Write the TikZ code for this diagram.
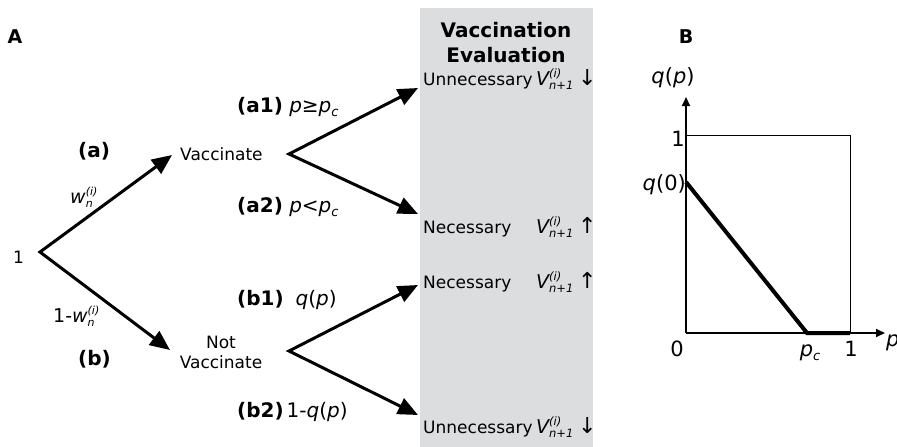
\documentclass[tikz,border=0pt]{standalone}
\usepackage{fontspec}
\setmainfont{DejaVu Sans}
\usetikzlibrary{arrows.meta}
\definecolor{panelgray}{RGB}{220,221,223}
\newcommand\ssc[3][10]{{\fontsize{#1}{#1}\selectfont\setbox0=\hbox{\raisebox{0.68em}{#2}}\setbox2=\hbox{\raisebox{-0.42em}{#3}}\ifdim\wd0>\wd2 \rlap{\box2}\box0\else\rlap{\box0}\box2\fi}}
\newcommand\sbc[1]{\raisebox{-4pt}{\fontsize{13}{13}\selectfont #1}}
\newcommand\evrow[2]{\makebox[113pt][l]{#1}\makebox[42pt][l]{\fontsize{19}{20}\selectfont\itshape V\ssc[11.5]{(i)}{n+1}}{\fontsize{22}{22}\selectfont #2}}
\begin{document}
\begin{tikzpicture}[x=1pt,y=-1pt,
  txt/.style={font=\fontsize{17}{20}\selectfont, inner sep=0pt},
  lbl/.style={font=\fontsize{20}{24}\selectfont, inner sep=0pt},
  blbl/.style={font=\fontsize{21}{24}\selectfont, inner sep=0pt},
  ttl/.style={font=\fontsize{20}{24}\selectfont\bfseries, inner sep=0pt},
  wlbl/.style={font=\fontsize{19}{20}\selectfont, inner sep=0pt},
  arrtwo/.style={line width=3pt, line join=miter,
    {Triangle[length=20pt,width=17pt]}-{Triangle[length=20pt,width=17pt]}},
  axis/.style={line width=2pt, -{Triangle[length=9pt,width=8pt]}},
  frame/.style={line width=0.9pt},
  curve/.style={line width=4pt, line join=miter}]
\useasboundingbox (0,0) rectangle (897,447);
\clip (0,0) rectangle (897,447);

% panel labels
\node[font=\fontsize{19}{20}\selectfont\bfseries, inner sep=0pt, anchor=base] (pA) at (15,43) {A};
\node[font=\fontsize{19}{20}\selectfont\bfseries, inner sep=0pt, anchor=base] (pB) at (686,43) {B};

% gray evaluation panel
\fill[panelgray] (420,8) rectangle (593,447);
\node[ttl, anchor=base] (ev1) at (506,37) {Vaccination};
\node[ttl, anchor=base] (ev2) at (506,62) {Evaluation};

% tree nodes
\node[txt, anchor=base west] (one) at (13,263) {1};
\node[txt, anchor=base west] (vac) at (180,160) {Vaccinate};
\node[txt, align=center] (nvac) at (221,352) {Not\\Vaccinate};

\coordinate (o) at (40,252);
\coordinate (vt) at (172,155);
\coordinate (nvt) at (170,350);
\coordinate (va) at (289,154);
\coordinate (nva) at (289,351);
\coordinate (a1t) at (418,88);
\coordinate (a2t) at (418,214);
\coordinate (b1t) at (418,285);
\coordinate (b2t) at (418,415);

\draw[arrtwo] (vt) -- (o) -- (nvt);
\draw[arrtwo] (a1t) -- (va) -- (a2t);
\draw[arrtwo] (b1t) -- (nva) -- (b2t);

% branch labels
\node[lbl, anchor=base west] (la) at (78,157) {\textbf{(a)}};
\node[lbl, anchor=base west] (lb) at (78,365) {\textbf{(b)}};
\node[wlbl, anchor=base west] (lw) at (70,203) {\textit{w}\ssc[11]{\textit{(i)}}{\textit{n}}};
\node[wlbl, anchor=base west] (lw2) at (53,322) {1-\textit{w}\ssc[11]{\textit{(i)}}{\textit{n}}};
\node[lbl, anchor=base west] (la1) at (237,112) {\textbf{(a1)} \textit{p}≥\textit{p}\sbc{\textit{c}}};
\node[lbl, anchor=base west] (la2) at (237,212) {\textbf{(a2)} \textit{p}<\textit{p}\sbc{\textit{c}}};
\node[lbl, anchor=base west] (lb1) at (237,305) {\textbf{(b1)}\hspace{0.6em}\textit{q}(\textit{p})};
\node[lbl, anchor=base west] (lb2) at (237,417) {\textbf{(b2)}\hspace{3pt}1-\textit{q}(\textit{p})};

% evaluation rows
\node[txt, anchor=base west] (r1) at (423,85) {\evrow{Unnecessary}{↓}};
\node[txt, anchor=base west] (r2) at (423,233) {\evrow{Necessary}{↑}};
\node[txt, anchor=base west] (r3) at (423,288) {\evrow{Necessary}{↑}};
\node[txt, anchor=base west] (r4) at (423,433) {\evrow{Unnecessary}{↓}};

% panel B
\coordinate (org) at (686,333);
\coordinate (ytip) at (686,97);
\coordinate (xtip) at (885,333);
\coordinate (q0) at (686,182);
\coordinate (pc) at (807,333);
\coordinate (one1) at (850,333);
\draw[frame] (686,135) rectangle (850,333);
\draw[axis] (org) -- (ytip);
\draw[axis] (org) -- (xtip);
\draw[curve] (q0) -- (pc) -- (one1);

\node[blbl, anchor=base] (qp) at (673,83) {\textit{q}(\textit{p})};
\node[blbl, anchor=base east] (ly1) at (685,146) {1};
\node[blbl, anchor=base east] (lq0) at (686,190) {\textit{q}(0)};
\node[blbl, anchor=base] (lx0) at (677,356) {0};
\node[blbl, anchor=base] (lpc) at (810,356) {\textit{p}\sbc{\textit{c}}};
\node[blbl, anchor=base] (lx1) at (851,356) {1};
\node[blbl, anchor=base west] (lp) at (886,346) {\textit{p}};
\end{tikzpicture}
\end{document}
